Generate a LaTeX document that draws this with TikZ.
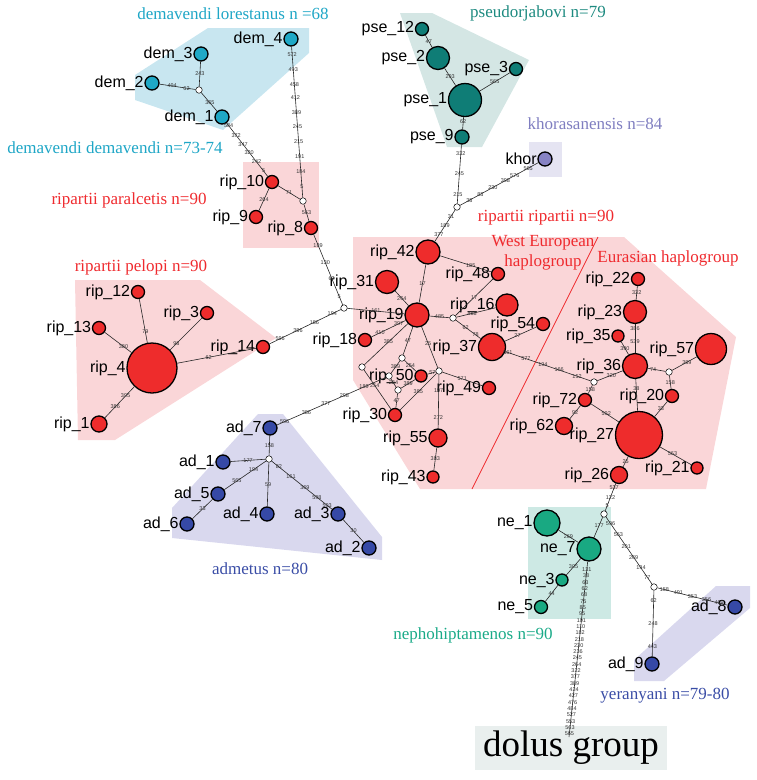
\documentclass[tikz,border=0pt]{standalone}
\usepackage{fontspec}
\setmainfont{Liberation Serif}
\setsansfont{Liberation Sans}
\usetikzlibrary{positioning}
% haplotype fills
\definecolor{ripred}{HTML}{EE2C2C}
\definecolor{demcyan}{HTML}{1FA8C6}
\definecolor{psecyan}{HTML}{0F7D76}
\definecolor{khorlav}{HTML}{8783C4}
\definecolor{adblue}{HTML}{3649A6}
\definecolor{negreen}{HTML}{19A982}
% hull fills
\definecolor{dembg}{HTML}{C8E6F0}
\definecolor{psebg}{HTML}{D4E6E4}
\definecolor{khorbg}{HTML}{E5E4F2}
\definecolor{ripbg}{HTML}{FAD6D8}
\definecolor{adbg}{HTML}{D9D8EE}
\definecolor{nebg}{HTML}{CDE9E4}
\definecolor{dolbg}{HTML}{E9EFEE}
% taxon label colours
\definecolor{demtxt}{HTML}{1EA6C6}
\definecolor{psetxt}{HTML}{1D8A80}
\definecolor{khortxt}{HTML}{7F7EC0}
\definecolor{riptxt}{HTML}{EF2A2E}
\definecolor{adtxt}{HTML}{3A4DA6}
\definecolor{netxt}{HTML}{1AAA88}
\tikzset{
  hap/.style={circle,draw=black,line width=1.3pt,inner sep=0pt},
  ripn/.style={hap,fill=ripred},
  demn/.style={hap,fill=demcyan},
  psen/.style={hap,fill=psecyan},
  khorn/.style={hap,fill=khorlav},
  adn/.style={hap,fill=adblue},
  nen/.style={hap,fill=negreen},
  med/.style={circle,draw=black,fill=white,line width=0.5pt,
              minimum size=6.5pt,inner sep=0pt},
  lab/.style={font=\sffamily\fontsize{16}{16}\selectfont,inner sep=0.5pt},
  link/.style={black!85,line width=0.6pt},
  mut/.style={font=\sffamily\fontsize{5.5}{5.5}\selectfont,text=black!80,
              inner sep=0pt},
  taxon/.style={font=\fontsize{17}{20}\selectfont},
}
\newcommand\mutline[3]{%
  \draw[link](#1)--(#2);
  \foreach \p/\m in {#3}{\path(#1)--(#2)node[mut,pos=\p]{\m};}}

\begin{document}
\begin{tikzpicture}[x=1pt,y=-1pt]
  \useasboundingbox(0,0)rectangle(756,780);

  % Group hulls
  \fill[dembg](135,75)--(208,28)--(309,28)--(309,53)--(223,130)--(135,100)--cycle;
  \fill[psebg](400,13)--(432,13)--(529,60)--(482,147)--(447,147)--cycle;
  \fill[khorbg](529,142)rectangle(562,177);
  \fill[ripbg](243,162)rectangle(319,248);
  \fill[ripbg](75,280)--(200,280)--(276,338)--(115,440)--(78,440)--cycle;
  \fill[ripbg](353,237)--(624,237)--(736,337)--(706,489)--(420,489)--(353,380)--cycle;
  \fill[adbg](172,508)--(258,414)--(283,414)--(382,537)--(382,560)--(172,538)--cycle;
  \fill[nebg](528,507)rectangle(611,619);
  \fill[adbg](750,586)--(750,608)--(664,681)--(634,681)--(634,660)--(716,586)--cycle;
  \node[fill=dolbg,minimum width=192pt,minimum height=44pt,inner sep=0pt,
        font=\fontsize{37}{37}\selectfont] (dolus) at (571,748) {dolus group};

  % West European / Eurasian split
  \draw[riptxt,line width=0.8pt](598,237)--(472,489);

  % Taxon labels
  \node[taxon,text=demtxt]  (tlor) at (233,14)  {demavendi lorestanus n =68};
  \node[taxon,text=demtxt]  (tdem) at (115,148) {demavendi demavendi n=73-74};
  \node[taxon,text=psetxt]  (tpse) at (538,13)  {pseudorjabovi n=79};
  \node[taxon,text=khortxt] (tkho) at (595,124) {khorasanensis n=84};
  \node[taxon,text=riptxt]  (tpar) at (129,200) {ripartii paralcetis n=90};
  \node[taxon,text=riptxt]  (tpel) at (141,267) {ripartii pelopi n=90};
  \node[taxon,text=riptxt]  (trip) at (546,218) {ripartii ripartii n=90};
  \node[taxon,text=riptxt,align=center] (twest) at (543,253) {West European\\haplogroup};
  \node[taxon,text=riptxt]  (teur) at (668,258) {Eurasian haplogroup};
  \node[taxon,text=adtxt]   (tadm) at (260,569) {admetus n=80};
  \node[taxon,text=netxt]   (tneo) at (473,635) {nephohiptamenos n=90};
  \node[taxon,text=adtxt]   (tyer) at (665,696) {yeranyani n=79-80};

  % Haplotypes
  \foreach \k/\x/\y/\d in {42/428/252/24,31/387/282/23,19/417/315/24,16/507/305/22,
      48/498/274/13,37/492/347/27,54/543/324/13,18/365/340/13,50/421/376/12,
      49/489/388/13,30/395/415/13,55/438/438/18,43/433/477/12,22/638/279/13,
      23/635/312/23,35/618/336/12,57/711/349/31,36/635/366/25,20/672/396/13,
      72/585/400/13,62/564/426/17,27/639/435/47,21/697/468/12,26/619/475/17,
      10/272/182/13,9/256/217/13,8/311/228/13,12/138/292/13,3/207/313/13,
      13/99/328/13,14/263/347/13,4/152/368/50,1/99/424/16}
    \node[ripn,minimum size=\d pt,label={[lab]left:rip\_\k}] (rip\k) at (\x,\y) {};
  \foreach \k/\x/\y in {1/222/117,2/152/83,3/201/54,4/291/39}
    \node[demn,minimum size=14pt,label={[lab]left:dem\_\k}] (dem\k) at (\x,\y) {};
  \foreach \k/\x/\y/\d in {12/422/29/13,2/438/58/23,1/465/100/33,3/516/69/13,9/462/137/14}
    \node[psen,minimum size=\d pt,label={[lab]left:pse\_\k}] (pse\k) at (\x,\y) {};
  \node[khorn,minimum size=14pt,label={[lab]left:khor}] (khor) at (545,159) {};
  \foreach \k/\x/\y in {1/223/462,2/369/548,3/338/514,4/267/514,5/218/494,
      6/187/524,7/270/428,8/735/607,9/652/664}
    \node[adn,minimum size=14pt,label={[lab]left:ad\_\k}] (ad\k) at (\x,\y) {};
  \foreach \k/\x/\y/\d in {1/547/523/26,7/589/549/24,3/562/580/12,5/541/607/13}
    \node[nen,minimum size=\d pt,label={[lab]left:ne\_\k}] (ne\k) at (\x,\y) {};

  % Median vectors
  \foreach \n/\x/\y in {mdem/199/90,mrip/303/201,mbig/344/308,mpse/457/207,
      mr/453/318,mA/362/367,mB/402/358,mC/389/376,mD/398/390,mE/439/371,
      ml/594/382,mer/669/372,mne/604/514,mad/654/587,madm/269/459}
    \node[med] (\n) at (\x,\y) {};
  \coordinate (dolend) at (569,737);

  % demavendi
  \mutline{dem3}{mdem}{0.5/243}
  \mutline{dem2}{mdem}{0.35/494,0.75/62}
  \mutline{mdem}{dem1}{0.55/365}
  \mutline{dem1}{rip10}{0.05/584,0.23/372,0.4/347,0.55/320,0.73/242,0.9/5}
  \mutline{dem4}{mrip}{0.05/572,0.15/493,0.25/458,0.34/412,0.44/389,0.53/245,
                       0.63/215,0.73/191,0.83/184,0.93/5}
  % paralcetis and pelopi
  \mutline{rip10}{mrip}{0.5/71}
  \mutline{mrip}{rip8}{0.5/563}
  \mutline{rip10}{rip9}{0.5/264}
  \mutline{rip8}{mbig}{0.15/189,0.4/130,0.62/62,0.88/5}
  \mutline{mbig}{rip14}{0.12/194,0.37/186,0.6/386,0.85/596}
  \mutline{mbig}{rip19}{0.5/161}
  \mutline{rip4}{rip12}{0.25/79}
  \mutline{rip4}{rip13}{0.3/380}
  \mutline{rip4}{rip3}{0.2/98}
  \mutline{rip4}{rip14}{0.4/62}
  \mutline{rip4}{rip1}{0.3/395,0.65/386}
  % pseudorjabovi and khorasanensis
  \mutline{pse12}{pse2}{0.5/47}
  \mutline{pse2}{pse1}{0.5/293}
  \mutline{pse3}{pse1}{0.5/565}
  \mutline{pse1}{pse9}{0.4/62}
  \mutline{pse9}{mpse}{0.15/332,0.5/245,0.85/215}
  \mutline{mpse}{khor}{0.12/38,0.26/83,0.42/230,0.58/398,0.7/576,0.87/565}
  \mutline{mpse}{rip42}{0.2/31,0.5/189,0.8/377}
  % West European
  \mutline{rip42}{rip19}{0.5/17}
  \mutline{rip42}{rip48}{0.6/185}
  \mutline{rip31}{rip19}{0.5/264}
  \mutline{rip19}{mr}{0.5/485}
  \mutline{mr}{rip48}{0.5/17}
  \mutline{mr}{rip16}{0.4/488}
  \mutline{mr}{rip37}{0.4/62,0.8/78}
  \mutline{rip19}{rip18}{0.2/397,0.75/410}
  \mutline{rip19}{mA}{0.45/385}
  \mutline{rip19}{mB}{0.5/47}
  \mutline{rip19}{mE}{0.4/25}
  \mutline{mB}{mC}{0.5/389}
  \mutline{mB}{rip50}{0.5/254}
  \mutline{mC}{mD}{0.5/284}
  \mutline{mD}{rip50}{0.5/389}
  \mutline{mD}{rip30}{0.5/47}
  \mutline{mA}{rip30}{0.4/254}
  \mutline{mE}{rip30}{0.5/385}
  \mutline{mE}{rip50}{0.4/57}
  \mutline{mE}{rip49}{0.5/571}
  \mutline{mE}{rip55}{0.3/197,0.8/272}
  \mutline{rip55}{rip43}{0.5/383}
  \mutline{ad7}{mC}{0.07/596,0.27/386,0.45/377,0.62/298,0.8/189}
  \mutline{rip37}{rip54}{0.4/27}
  \mutline{rip37}{ml}{0.03/561,0.24/577,0.44/194,0.63/166,0.84/152}
  % Eurasian
  \mutline{rip22}{rip23}{0.5/332}
  \mutline{rip23}{rip36}{0.15/386,0.6/539}
  \mutline{rip35}{rip36}{0.5/390}
  \mutline{rip36}{mer}{0.3/74}
  \mutline{mer}{rip57}{0.6/389}
  \mutline{mer}{rip20}{0.5/158}
  \mutline{rip36}{rip27}{0.3/38}
  \mutline{rip20}{rip27}{0.5/33}
  \mutline{ml}{rip36}{0.55/320}
  \mutline{ml}{rip72}{0.5/158}
  \mutline{rip72}{rip62}{0.5/92}
  \mutline{rip72}{rip27}{0.55/592}
  \mutline{rip27}{rip21}{0.4/563}
  \mutline{rip27}{rip26}{0.5/25}
  \mutline{rip26}{mne}{0.15/537,0.5/122,0.82/5}
  % nephohiptamenos, yeranyani, dolus
  \mutline{mne}{ne7}{0.4/177}
  \mutline{mne}{mad}{0.1/596,0.27/563,0.44/201,0.6/269,0.76/194,0.9/77}
  \mutline{ne1}{ne7}{0.5/269}
  \mutline{ne7}{ne3}{0.5/305}
  \mutline{ne3}{ne5}{0.5/44}
  \mutline{mad}{ad8}{0.1/158,0.3/491,0.5/353,0.7/356,0.88/409}
  \mutline{mad}{ad9}{0.15/62,0.5/248,0.85/443}
  \draw[link](ne7)--(dolend);
  \foreach \m [count=\i,evaluate=\i as \q using 0.01+\i*0.036] in
      {131,38,63,62,68,75,85,95,101,110,182,218,230,236,245,264,322,377,389,
       424,427,476,484,527,553,563,565}
    \path(ne7)--(dolend)node[mut,pos=\q]{\m};
  % admetus
  \mutline{ad7}{madm}{0.5/158}
  \mutline{madm}{ad1}{0.5/177}
  \mutline{madm}{ad5}{0.3/194,0.7/565}
  \mutline{ad5}{ad6}{0.5/33}
  \mutline{madm}{ad4}{0.5/59}
  \mutline{madm}{ad3}{0.12/82,0.32/161,0.55/369,0.75/598,0.92/593}
  \mutline{ad3}{ad2}{0.5/30}
\end{tikzpicture}
\end{document}
